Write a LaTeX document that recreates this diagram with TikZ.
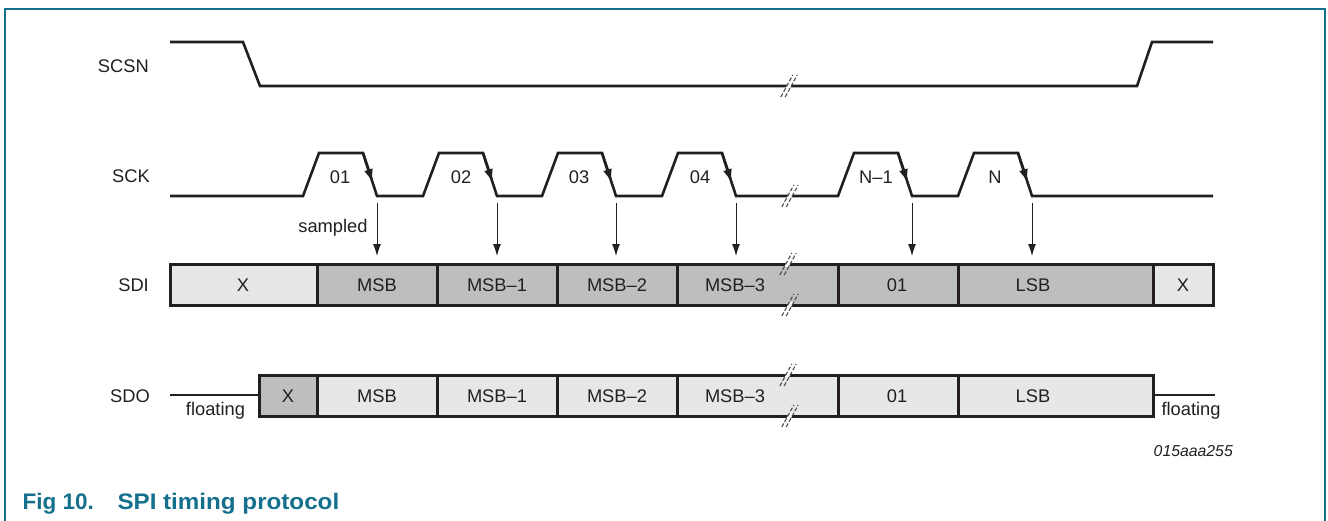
\documentclass[tikz,border=0pt]{standalone}
\usepackage{fontspec}
\setmainfont{Liberation Sans}
\usetikzlibrary{arrows.meta,calc}
\definecolor{nxpteal}{RGB}{20,112,140}
\definecolor{ltgray}{RGB}{230,231,232}
\definecolor{dkgray}{RGB}{188,190,192}
\definecolor{ink}{RGB}{35,31,32}
\tikzset{
  sig/.style={draw=ink, line width=2.6pt, line join=miter},
  box/.style={draw=ink, line width=3pt, minimum height=41pt, inner sep=0pt, outer sep=0pt},
  lbl/.style={font=\fontsize{18.3}{20}\selectfont, inner sep=0pt, text=ink},
  edgearrow/.style={draw=ink, line width=2.6pt, -{Latex[length=14pt,width=9pt]}},
  samp/.style={draw=ink, line width=1pt, -{Latex[length=12pt,width=8pt]}},
  captxt/.style={anchor=base west, inner sep=0pt, text=nxpteal, font=\fontsize{22.5}{26}\selectfont\bfseries},
  brk/.pic={
    \fill[white] (-4.0,3) -- (0.4,3) -- (4.0,-3) -- (-0.4,-3) -- cycle;
    \draw[black!70, line width=1.1pt, dash pattern=on 4pt off 2pt] (-8.2,11) -- (3.8,-11);
    \draw[black!70, line width=1.1pt, dash pattern=on 4pt off 2pt] (-3.8,11) -- (8.2,-11);
  }
}
\begin{document}
\begin{tikzpicture}[x=1pt,y=-1pt]
\useasboundingbox (0,0) rectangle (1328,520);
% frame
\draw[nxpteal, line width=1.5pt] (5,521) -- (5,9) -- (1325,9) -- (1325,521);

% signal names
\node[lbl, anchor=east] (nscsn) at (149,66) {SCSN};
\node[lbl, anchor=east] (nsck) at (150,176) {SCK};
\node[lbl, anchor=east] (nsdi) at (149,285) {SDI};
\node[lbl, anchor=east] (nsdo) at (150,396) {SDO};

% SCSN
\draw[sig] (170,42) -- (243,42) -- (260,86) -- (1137,86) -- (1152,42) -- (1213,42);
\pic at (789,86) {brk};

% SCK
\draw[sig] (170,196) foreach \s in {303,423,542,662,838,958} { -- (\s,196) -- (\s+16,153) -- (\s+60,153) -- (\s+74,196) } -- (1213,196);
\foreach \s in {303,423,542,662,838,958} {
  \draw[edgearrow] (\s+60,153) -- ($(\s+60,153)!0.7!(\s+74,196)$);
}
\pic at (790,196) {brk};
\node[lbl] (p1) at (340,177) {01};
\node[lbl] (p2) at (461,177) {02};
\node[lbl] (p3) at (579,177) {03};
\node[lbl] (p4) at (700,177) {04};
\node[lbl] (p5) at (876,177) {N\textendash1};
\node[lbl] (p6) at (995,177) {N};
\node[lbl] (sampled) at (333,228) {sampled};

% SDI boxes
\node[box, fill=ltgray, minimum width=147pt] (i0) at (243.5,284.5) {};
\node[box, fill=dkgray, minimum width=120pt] (i1) at (377,284.5) {};
\node[box, fill=dkgray, minimum width=120pt] (i2) at (497,284.5) {};
\node[box, fill=dkgray, minimum width=120pt] (i3) at (617,284.5) {};
\node[box, fill=dkgray, minimum width=161pt] (i4) at (757.5,284.5) {};
\node[box, fill=dkgray, minimum width=120pt] (i5) at (898,284.5) {};
\node[box, fill=dkgray, minimum width=195pt] (i6) at (1055.5,284.5) {};
\node[box, fill=ltgray, minimum width=60pt] (i7) at (1183,284.5) {};
\node[lbl] (ti0) at (243,285) {X};
\node[lbl] (ti1) at (377,285) {MSB};
\node[lbl] (ti2) at (497,285) {MSB\textendash1};
\node[lbl] (ti3) at (617,285) {MSB\textendash2};
\node[lbl] (ti4) at (735,285) {MSB\textendash3};
\node[lbl] (ti5) at (897,285) {01};
\node[lbl] (ti6) at (1033,285) {LSB};
\node[lbl] (ti7) at (1183,285) {X};
\pic at (788,264) {brk};
\pic at (790,305) {brk};

% sampled arrows
\foreach \x in {377,497,616,736,912,1032} {
  \coordinate (s\x) at (\x,203);
  \draw[samp, shorten >=8pt] (s\x) -- (s\x |- i1.north);
}

% SDO
\coordinate (fl) at (170,395);
\coordinate (fr) at (1215,395);
\node[box, fill=dkgray, minimum width=58pt] (o0) at (288,395.5) {};
\node[box, fill=ltgray, minimum width=120pt] (o1) at (377,395.5) {};
\node[box, fill=ltgray, minimum width=120pt] (o2) at (497,395.5) {};
\node[box, fill=ltgray, minimum width=120pt] (o3) at (617,395.5) {};
\node[box, fill=ltgray, minimum width=161pt] (o4) at (757.5,395.5) {};
\node[box, fill=ltgray, minimum width=120pt] (o5) at (898,395.5) {};
\node[box, fill=ltgray, minimum width=195pt] (o6) at (1055.5,395.5) {};
\draw[sig] (fl) -- (fl -| o0.west);
\draw[sig] (fr -| o6.east) -- (fr);
\node[lbl] (to0) at (288,396) {X};
\node[lbl] (to1) at (377,396) {MSB};
\node[lbl] (to2) at (497,396) {MSB\textendash1};
\node[lbl] (to3) at (617,396) {MSB\textendash2};
\node[lbl] (to4) at (735,396) {MSB\textendash3};
\node[lbl] (to5) at (897,396) {01};
\node[lbl] (to6) at (1033,396) {LSB};
\pic at (788,375) {brk};
\pic at (790,416) {brk};
\node[lbl] (fll) at (215.5,411) {floating};
\node[lbl] (flr) at (1191,411) {floating};

% id and caption
\node[lbl, font=\fontsize{15.8}{18}\selectfont\itshape, anchor=east] (id) at (1233,451) {015aaa255};
\node[captxt] (cap1) at (22.5,509) {Fig 10.};
\node[captxt] (cap2) at (117.3,509) {\scalebox{1.075}[1]{SPI timing protocol}};
\end{tikzpicture}
\end{document}
